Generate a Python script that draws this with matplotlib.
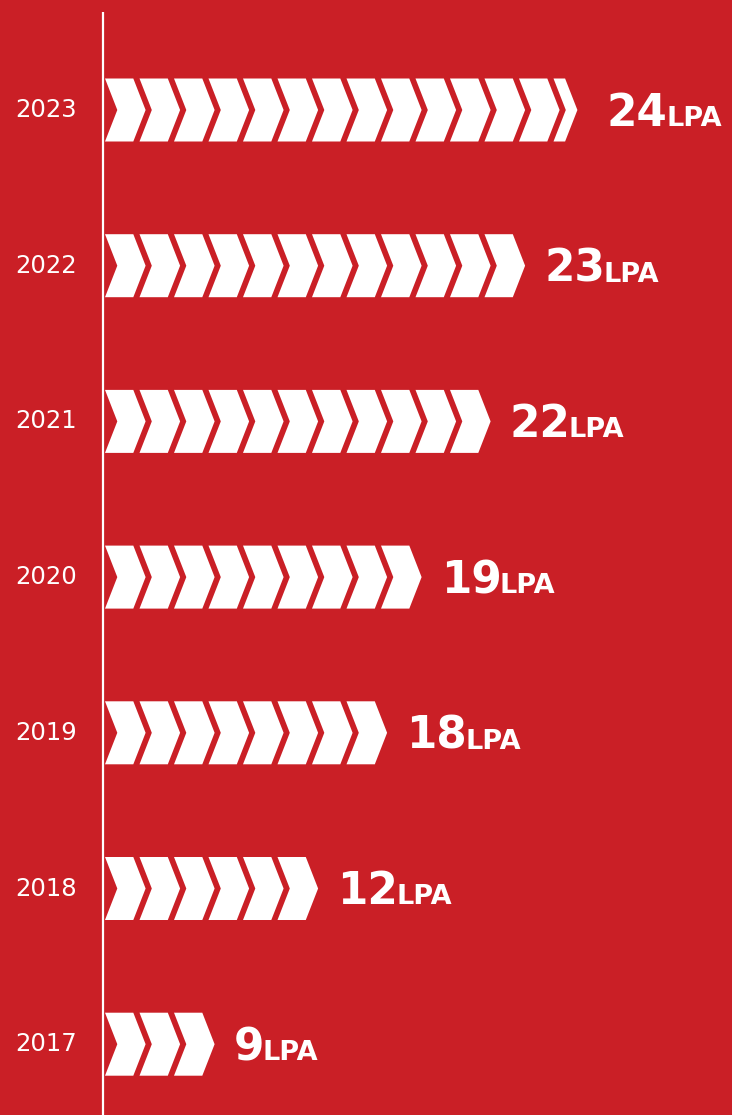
import numpy as np
import matplotlib
matplotlib.use("Agg")
import matplotlib.pyplot as plt
from matplotlib.patches import Polygon

# data
years = ["2023", "2022", "2021", "2020", "2019", "2018", "2017"]
salary_lpa = [24, 23, 22, 19, 18, 12, 9]
chevrons = [13.41, 12, 11, 9, 8, 6, 3]   # number of arrows drawn per row

RED = "#CA1F26"
W, H = 732, 1115

fig = plt.figure(figsize=(W / 100, H / 100), dpi=100, facecolor=RED)
ax = fig.add_axes([0, 0, 1, 1])
ax.set_xlim(0, W)
ax.set_ylim(H, 0)
ax.axis("off")
ax.set_facecolor(RED)

# layout in pixels
x_start = 105
pitch = 34.5
top_w = 28.3
tip = 12.3
half_h = 31.5
row0, row_step = 110, 155.7

# timeline
ax.plot([103.3, 103.3], [12, H], color="white", lw=1.6, solid_capstyle="butt")


def chevron(x0, yc, w):
    pts = [(x0, yc - half_h), (x0 + w, yc - half_h), (x0 + w + tip, yc),
           (x0 + w, yc + half_h), (x0, yc + half_h), (x0 + tip, yc)]
    return Polygon(pts, closed=True, fc="white", ec="none")


for i, (yr, val, n) in enumerate(zip(years, salary_lpa, chevrons)):
    yc = row0 + i * row_step
    full = int(np.floor(n))
    frac = n - full
    for k in range(full):
        ax.add_patch(chevron(x_start + k * pitch, yc, top_w))
    end = x_start + (full - 1) * pitch + top_w + tip
    if frac > 0:
        ax.add_patch(chevron(x_start + full * pitch, yc, top_w * frac))
        end = x_start + full * pitch + top_w * frac + tip
    label_x = max(end, x_start + np.ceil(n) * pitch) + 19

    ax.text(46.5, yc, yr, color="white", fontsize=17.5, ha="center",
            va="center", family="DejaVu Sans")
    num = ax.text(label_x, yc + 16, str(val), color="white", fontsize=31.5,
                  fontweight="heavy", ha="left", va="baseline",
                  family="DejaVu Sans")
    ax.annotate("LPA", xy=(1, yc + 16), xycoords=(num, "data"),
                xytext=(-1, 0), textcoords="offset points",
                color="white", fontsize=19.5, fontweight="bold",
                ha="left", va="baseline", family="DejaVu Sans")

fig.savefig("out.png", dpi=100, facecolor=RED)
